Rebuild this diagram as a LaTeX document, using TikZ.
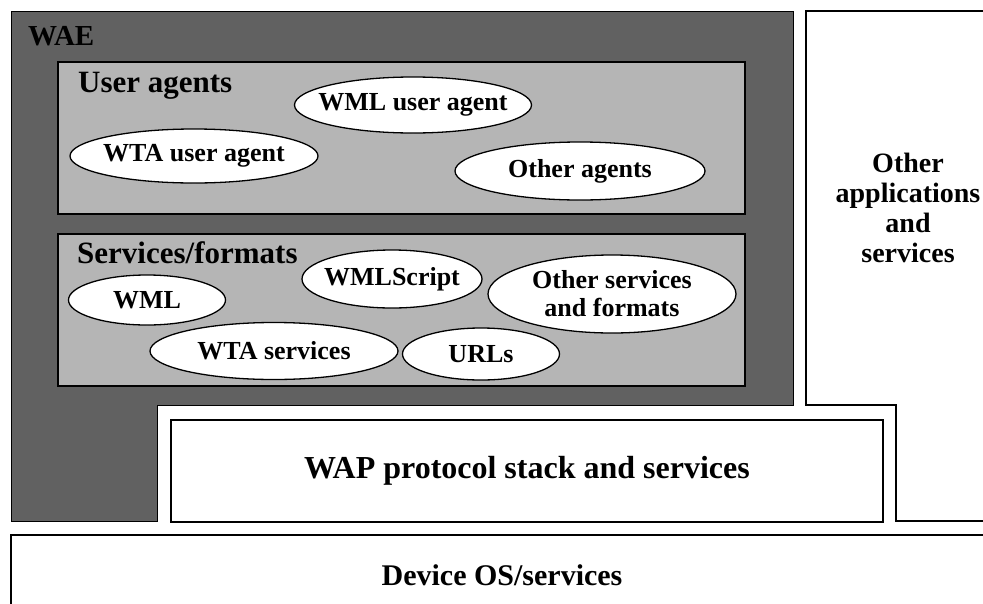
\documentclass[tikz,border=0pt]{standalone}
\usepackage{fontspec}
\setmainfont{Liberation Serif}
\usetikzlibrary{shapes.geometric}
\begin{document}
\begin{tikzpicture}[x=1pt,y=-1pt,
  darkarea/.style={fill=black!62, draw=black, line width=1pt},
  panel/.style={fill=black!29, draw=black, line width=1.8pt, inner sep=0pt},
  ell/.style={ellipse, draw=black, fill=white, line width=1.3pt, inner sep=0pt},
  etxt/.style={font=\fontsize{26}{28}\selectfont\bfseries, align=center, inner sep=0pt},
  hdr/.style={font=\fontsize{31}{32}\selectfont\bfseries, anchor=base west, inner sep=0pt},
  plainbox/.style={draw=black, line width=1.2pt, inner sep=0pt},
  btxt/.style={font=\fontsize{32}{34}\selectfont\bfseries, inner sep=0pt}]
\useasboundingbox (0,0) rectangle (983,603);
% WAE dark area
\path[darkarea] (11,11) -- (793,11) -- (793,405) -- (157,405) -- (157,521) -- (11,521) -- cycle;
\node[hdr, font=\fontsize{29}{30}\selectfont\bfseries] (wae) at (28,45) {WAE};
% panels
\node[panel, minimum width=687pt, minimum height=152pt, anchor=north west] (ua) at (57,61) {};
\node[panel, minimum width=687pt, minimum height=152pt, anchor=north west] (sf) at (57,233) {};
\node[hdr] (uat) at (78,92) {User agents};
\node[hdr] (sft) at (77,263) {Services/formats};
% user agents
\node[ell, minimum width=237pt, minimum height=56pt, label={[etxt]center:WML user agent}] (wmlua) at (413,105) {};
\node[ell, minimum width=248pt, minimum height=54pt, label={[etxt]center:WTA user agent}] (wtaua) at (194,156) {};
\node[ell, minimum width=250pt, minimum height=58pt, label={[etxt]center:Other agents}] (oag) at (580,171) {};
% services/formats
\node[ell, minimum width=157pt, minimum height=50pt, label={[etxt]center:WML}] (wml) at (147,300) {};
\node[ell, minimum width=180pt, minimum height=58pt, label={[etxt]center:WMLScript}] (wmls) at (392,279) {};
\node[ell, minimum width=248pt, minimum height=78pt, label={[etxt]center:{Other services\\and formats}}] (osf) at (612,294) {};
\node[ell, minimum width=248pt, minimum height=57pt, label={[etxt]center:WTA services}] (wtas) at (274,351) {};
\node[ell, minimum width=157pt, minimum height=52pt, label={[etxt]center:URLs}] (urls) at (481,354) {};
% WAP protocol stack
\node[plainbox, minimum width=712pt, minimum height=102pt] (wap) at (527,471) {};
\node[btxt] (waptxt) at (wap) {WAP protocol stack and services};
% other applications
\draw[line width=1.2pt] (990,11) -- (806,11) -- (806,405) -- (896,405) -- (896,521) -- (990,521);
\node[font=\fontsize{28}{30}\selectfont\bfseries, align=center, inner sep=0pt, anchor=north] (oapp) at (908,153) {Other\\applications\\and\\services};
% device OS
\draw[line width=1.2pt] (990,535) -- (11,535) -- (11,610);
\node[font=\fontsize{30}{32}\selectfont\bfseries, inner sep=0pt] (dev) at (502,575) {Device OS/services};
\end{tikzpicture}
\end{document}
